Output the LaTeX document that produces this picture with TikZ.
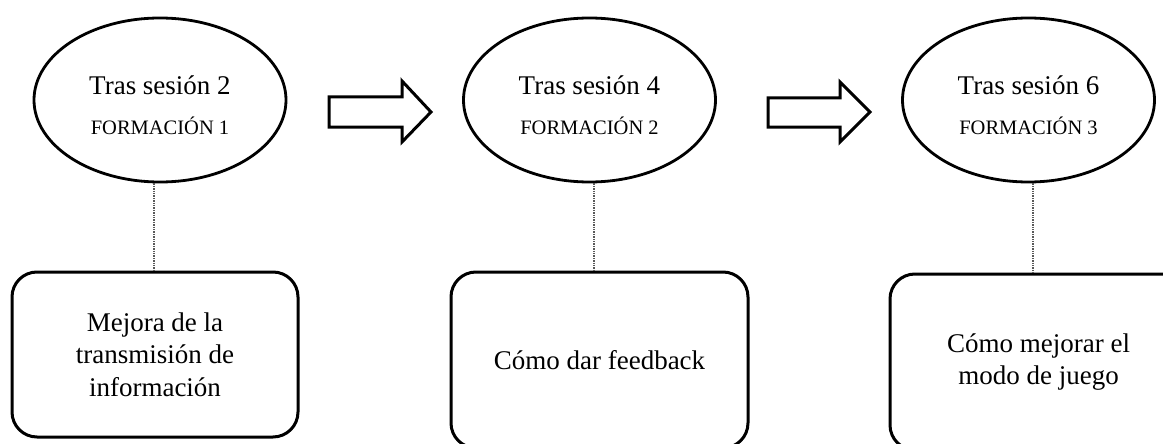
\documentclass[tikz,border=0pt]{standalone}
\usepackage{fontspec}
\setmainfont{Liberation Serif}
\usetikzlibrary{calc,shapes.geometric}
\begin{document}
\begin{tikzpicture}[x=1pt,y=-1pt,
  ell/.style={draw, ellipse, line width=2.8pt, minimum width=252pt, minimum height=164pt, inner sep=0pt},
  boxnode/.style={draw, rectangle, rounded corners=25pt, line width=3pt, inner sep=0pt, align=center,
                  font=\fontsize{27}{32.5}\selectfont},
  ttop/.style={anchor=base, inner sep=0pt, font=\fontsize{27}{32}\selectfont},
  tsub/.style={anchor=base, inner sep=0pt, font=\fontsize{20.5}{24}\selectfont},
  link/.style={draw=black!65, densely dotted, line width=1.4pt},
  blockarrow/.style={draw, line width=3pt, fill=white, line join=miter}
]
\useasboundingbox (0,0) rectangle (1163,444);

% ellipses
\node[ell] (e1) at (160,100) {};
\node[ell] (e2) at (589.5,100) {};
\node[ell] (e3) at (1028.5,100) {};

\node[ttop] (e1a) at ([yshift=5pt]e1.center) {Tras sesión 2};
\node[tsub] (e1b) at ([yshift=-35pt]e1.center) {FORMACIÓN 1};
\node[ttop] (e2a) at ([yshift=5pt]e2.center) {Tras sesión 4};
\node[tsub] (e2b) at ([yshift=-35pt]e2.center) {FORMACIÓN 2};
\node[ttop] (e3a) at ([yshift=5pt]e3.center) {Tras sesión 6};
\node[tsub] (e3b) at ([yshift=-35pt]e3.center) {FORMACIÓN 3};

% boxes
\node[boxnode, minimum width=286pt, minimum height=165pt] (b1) at (155,354.5)
  {Mejora de la\\transmisión de\\información};
\node[boxnode, minimum width=297pt, minimum height=176pt] (b2) at (599.5,360)
  {Cómo dar feedback};
\node[boxnode, minimum width=297pt, minimum height=176pt] (b3) at (1038.5,362)
  {Cómo mejorar el\\modo de juego};

% connectors
\coordinate (c1) at (154,0);
\coordinate (c2) at (594,0);
\coordinate (c3) at (1033,0);
\draw[link] (e1.south -| c1) -- (b1.north -| c1);
\draw[link] (e2.south -| c2) -- (b2.north -| c2);
\draw[link] (e3.south -| c3) -- (b3.north -| c3);

% block arrows
\draw[blockarrow] (329,97) -- (402,97) -- (402,81) -- (431,112) -- (402,142) -- (402,127) -- (329,127) -- cycle;
\draw[blockarrow] (768,98) -- (840,98) -- (840,82) -- (870,112) -- (840,142) -- (840,127) -- (768,127) -- cycle;
\end{tikzpicture}
\end{document}
